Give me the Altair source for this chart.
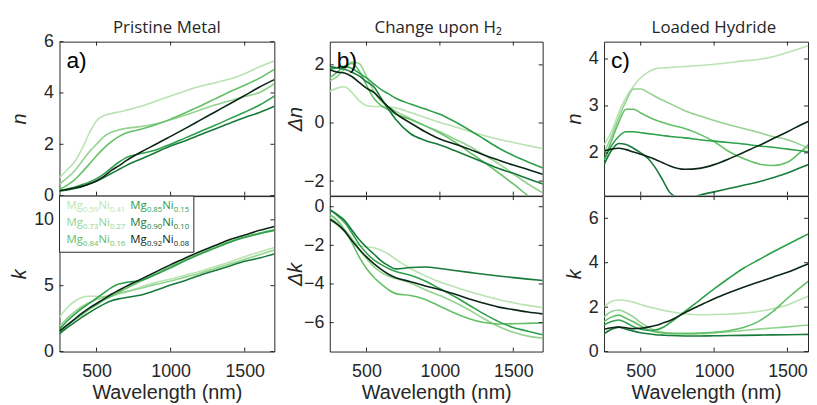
import altair as alt
import pandas as pd

# ---------------- data ----------------
WL = [250, 300, 350, 400, 450, 500, 550, 600, 650, 700, 800, 900, 1000,
      1100, 1200, 1300, 1400, 1500, 1600, 1700]
MG = ["0.59", "0.73", "0.84", "0.85", "0.90", "0.92"]
NI = ["0.41", "0.27", "0.16", "0.15", "0.10", "0.08"]
COLORS = ["#b9e3b1", "#93d38f", "#63c067", "#2ea04b", "#177a3a", "#0c2616"]
X_TICKS = [500, 1000, 1500]
COLUMN_TITLES = ["Pristine Metal", "Change upon H₂", "Loaded Hydride"]

PRISTINE_N = {
    "0.59": [0.70, 1.00, 1.30, 1.80, 2.42, 2.92, 3.12, 3.20, 3.26, 3.33, 3.48, 3.68, 3.88, 4.08, 4.26, 4.40, 4.54, 4.75, 5.02, 5.25],
    "0.73": [0.45, 0.68, 0.95, 1.32, 1.70, 2.00, 2.30, 2.47, 2.56, 2.62, 2.69, 2.80, 2.96, 3.14, 3.34, 3.53, 3.70, 3.86, 4.02, 4.36],
    "0.84": [0.25, 0.40, 0.60, 0.90, 1.22, 1.55, 1.85, 2.10, 2.30, 2.44, 2.59, 2.76, 2.98, 3.23, 3.49, 3.77, 4.05, 4.30, 4.58, 4.92],
    "0.85": [0.20, 0.26, 0.33, 0.42, 0.52, 0.66, 0.85, 1.08, 1.30, 1.48, 1.64, 1.78, 2.00, 2.25, 2.50, 2.74, 3.00, 3.25, 3.53, 3.88],
    "0.90": [0.18, 0.22, 0.28, 0.35, 0.45, 0.56, 0.70, 0.86, 1.02, 1.17, 1.43, 1.68, 1.93, 2.14, 2.37, 2.60, 2.82, 3.04, 3.24, 3.48],
    "0.92": [0.19, 0.24, 0.30, 0.36, 0.45, 0.58, 0.75, 0.98, 1.16, 1.36, 1.70, 2.00, 2.31, 2.62, 2.94, 3.26, 3.58, 3.90, 4.23, 4.52],
}
PRISTINE_K = {
    "0.59": [2.6, 3.3, 3.8, 4.1, 4.2, 4.2, 4.15, 4.2, 4.35, 4.5, 4.9, 5.25, 5.5, 5.8, 6.1, 6.45, 6.8, 7.2, 7.55, 7.9],
    "0.73": [1.9, 2.5, 3.0, 3.4, 3.7, 3.95, 4.15, 4.3, 4.42, 4.55, 4.8, 5.1, 5.35, 5.65, 5.95, 6.3, 6.65, 7.0, 7.35, 7.7],
    "0.84": [1.45, 1.95, 2.4, 2.8, 3.2, 3.55, 3.9, 4.2, 4.5, 4.8, 5.35, 5.9, 6.45, 6.95, 7.45, 7.9, 8.35, 8.7, 9.0, 9.25],
    "0.85": [1.7, 2.3, 2.8, 3.25, 3.65, 4.05, 4.45, 4.85, 5.12, 5.25, 5.4, 5.85, 6.35, 6.9, 7.4, 7.85, 8.3, 8.65, 8.95, 9.2],
    "0.90": [1.35, 1.8, 2.2, 2.6, 2.95, 3.3, 3.6, 3.85, 4.0, 4.1, 4.3, 4.65, 5.05, 5.4, 5.8, 6.15, 6.5, 6.85, 7.1, 7.4],
    "0.92": [1.55, 2.0, 2.45, 2.9, 3.3, 3.65, 4.0, 4.35, 4.65, 4.95, 5.5, 6.05, 6.6, 7.1, 7.6, 8.05, 8.5, 8.85, 9.2, 9.5],
}
CHANGE_N = {
    "0.59": [1.09, 1.20, 1.25, 1.05, 0.77, 0.60, 0.57, 0.57, 0.56, 0.52, 0.36, 0.19, 0.02, -0.13, -0.29, -0.43, -0.56, -0.67, -0.78, -0.88],
    "0.73": [1.45, 1.60, 1.85, 2.10, 2.05, 1.60, 1.10, 0.75, 0.55, 0.40, 0.15, -0.10, -0.30, -0.55, -0.80, -1.10, -1.40, -1.75, -2.10, -2.40],
    "0.84": [1.55, 1.75, 1.95, 2.05, 1.80, 1.30, 0.85, 0.60, 0.45, 0.30, 0.12, -0.10, -0.35, -0.65, -1.00, -1.35, -1.72, -2.10, -2.50, -2.85],
    "0.85": [1.85, 1.90, 1.95, 1.88, 1.72, 1.55, 1.35, 1.15, 1.00, 0.85, 0.65, 0.48, 0.30, 0.05, -0.24, -0.55, -0.86, -1.12, -1.34, -1.55],
    "0.90": [1.94, 1.90, 1.85, 1.75, 1.62, 1.42, 1.25, 0.85, 0.47, 0.12, -0.37, -0.60, -0.76, -0.95, -1.15, -1.36, -1.57, -1.73, -1.92, -2.10],
    "0.92": [1.83, 1.75, 1.72, 1.60, 1.40, 1.20, 1.05, 0.80, 0.55, 0.32, 0.00, -0.30, -0.55, -0.72, -0.90, -1.10, -1.28, -1.45, -1.60, -1.77],
}
CHANGE_K = {
    "0.59": [-0.65, -0.95, -1.30, -1.70, -2.00, -2.08, -2.12, -2.26, -2.45, -2.73, -3.20, -3.58, -3.90, -4.15, -4.39, -4.61, -4.80, -4.97, -5.11, -5.22],
    "0.73": [-0.55, -0.85, -1.20, -1.65, -2.20, -2.70, -3.10, -3.40, -3.60, -3.72, -3.95, -4.30, -4.60, -4.95, -5.35, -5.80, -6.20, -6.50, -6.70, -6.80],
    "0.84": [-0.40, -0.70, -1.20, -1.85, -2.60, -3.20, -3.65, -4.00, -4.30, -4.50, -4.60, -4.80, -5.15, -5.50, -5.80, -6.00, -6.07, -6.06, -6.04, -6.02],
    "0.85": [-0.15, -0.45, -0.80, -1.35, -1.95, -2.40, -2.75, -3.00, -3.20, -3.35, -3.55, -3.85, -4.25, -4.65, -5.10, -5.55, -5.95, -6.25, -6.45, -6.63],
    "0.90": [-0.15, -0.40, -0.70, -1.20, -1.70, -2.10, -2.45, -2.80, -3.05, -3.22, -3.15, -3.12, -3.20, -3.30, -3.40, -3.50, -3.59, -3.67, -3.75, -3.82],
    "0.92": [-0.65, -0.90, -1.25, -1.75, -2.20, -2.60, -2.95, -3.25, -3.50, -3.68, -3.88, -4.10, -4.30, -4.52, -4.78, -5.00, -5.20, -5.33, -5.45, -5.55],
}
HYDRIDE_N = {
    "0.59": [2.17, 2.45, 2.85, 3.18, 3.42, 3.60, 3.72, 3.79, 3.81, 3.82, 3.84, 3.86, 3.89, 3.92, 3.96, 3.99, 4.05, 4.14, 4.24, 4.35],
    "0.73": [2.00, 2.35, 2.75, 3.10, 3.36, 3.36, 3.29, 3.20, 3.12, 3.05, 2.90, 2.79, 2.69, 2.60, 2.52, 2.44, 2.35, 2.28, 2.16, 2.00],
    "0.84": [1.85, 2.25, 2.65, 2.93, 2.93, 2.85, 2.77, 2.70, 2.65, 2.60, 2.52, 2.40, 2.24, 2.03, 1.88, 1.77, 1.73, 1.80, 2.05, 2.35],
    "0.85": [1.85, 2.15, 2.35, 2.45, 2.45, 2.43, 2.41, 2.39, 2.37, 2.35, 2.32, 2.28, 2.25, 2.22, 2.19, 2.15, 2.12, 2.08, 2.04, 2.00],
    "0.90": [1.75, 2.05, 2.20, 2.18, 2.10, 2.00, 1.88, 1.68, 1.42, 1.15, 1.00, 1.10, 1.17, 1.24, 1.31, 1.38, 1.47, 1.57, 1.70, 1.82],
    "0.92": [2.04, 2.08, 2.10, 2.07, 2.02, 1.97, 1.92, 1.86, 1.79, 1.72, 1.65, 1.67, 1.75, 1.87, 2.01, 2.15, 2.30, 2.45, 2.61, 2.75],
}
HYDRIDE_K = {
    "0.59": [2.00, 2.25, 2.32, 2.30, 2.22, 2.12, 2.02, 1.94, 1.86, 1.80, 1.70, 1.66, 1.67, 1.69, 1.73, 1.80, 1.93, 2.10, 2.38, 2.65],
    "0.73": [1.55, 1.80, 1.87, 1.75, 1.56, 1.30, 1.10, 0.95, 0.87, 0.82, 0.79, 0.80, 0.84, 0.89, 0.95, 1.01, 1.06, 1.11, 1.17, 1.22],
    "0.84": [1.35, 1.55, 1.64, 1.50, 1.34, 1.15, 0.98, 0.88, 0.84, 0.82, 0.82, 0.83, 0.87, 0.94, 1.08, 1.35, 1.80, 2.40, 2.95, 3.45],
    "0.85": [1.20, 1.35, 1.42, 1.30, 1.12, 1.00, 0.95, 0.97, 1.08, 1.30, 1.80, 2.31, 2.82, 3.30, 3.75, 4.12, 4.48, 4.82, 5.16, 5.48],
    "0.90": [0.80, 1.00, 1.10, 1.00, 0.92, 0.85, 0.80, 0.76, 0.74, 0.72, 0.70, 0.70, 0.71, 0.72, 0.73, 0.74, 0.75, 0.76, 0.77, 0.78],
    "0.92": [1.00, 1.07, 1.10, 1.07, 1.03, 1.05, 1.10, 1.17, 1.28, 1.40, 1.75, 2.07, 2.38, 2.65, 2.90, 3.12, 3.35, 3.57, 3.84, 4.10],
}

# ---------------- style ----------------
AX = "#262626"
TICK_FONT = "Liberation Sans"
TITLE_FONT = "Open Sans"
H_TOP, H_BOT = 155.5, 157
TICK_LEN = 4


def long_df(d):
    rows = []
    for m in MG:
        for w, v in zip(WL, d[m]):
            rows.append({"wl": w, "val": v, "comp": m})
    return pd.DataFrame(rows)


def text_layer(txt, x, y, size, color, font, align="left"):
    return alt.Chart(pd.DataFrame({"t": [txt]})).mark_text(
        align=align, baseline="alphabetic", font=font, fontSize=size,
        color=color).encode(text="t:N", x=alt.value(x), y=alt.value(y))


def panel(d, ydom, yticks, ytitle, title_x, label, w, h, xdom, bottom,
          title=None, title_dx=0, extra=()):
    df = long_df(d)
    if bottom:
        x_axis = alt.Axis(values=X_TICKS, format="d", title="Wavelength (nm)",
                          ticks=False, tickSize=0, domain=False, grid=False,
                          labelFont=TICK_FONT, labelFontSize=18, labelColor=AX,
                          labelPadding=11, labelFlush=False,
                          titleFont=TICK_FONT, titleFontSize=20, titleColor=AX,
                          titleFontWeight="normal", titleY=47,
                          titleBaseline="alphabetic")
    else:
        x_axis = None
    y_axis = alt.Axis(values=yticks, format="d", title=ytitle,
                      ticks=False, tickSize=0, domain=False, grid=False,
                      labelFont=TICK_FONT, labelFontSize=18, labelColor=AX,
                      labelPadding=6, labelFlush=False, labelOverlap=False,
                      titleFont=TICK_FONT, titleFontSize=20, titleColor=AX,
                      titleFontWeight="normal", titleFontStyle="italic",
                      titleX=title_x, titleY=h / 2, titleAngle=270,
                      titleAlign="center", titleBaseline="alphabetic")
    lines = alt.Chart(df).mark_line(clip=True, strokeWidth=1.6,
                                    interpolate="monotone").encode(
        x=alt.X("wl:Q", scale=alt.Scale(domain=xdom, nice=False, zero=False),
                axis=x_axis),
        y=alt.Y("val:Q", scale=alt.Scale(domain=ydom, nice=False, zero=False),
                axis=y_axis),
        color=alt.Color("comp:N", scale=alt.Scale(domain=MG, range=COLORS),
                        legend=None),
    )
    xt = pd.DataFrame({"wl": X_TICKS})
    yt = pd.DataFrame({"val": yticks})
    rule = dict(color=AX, strokeWidth=1)
    t_bot = alt.Chart(xt).mark_rule(**rule).encode(
        x="wl:Q", y=alt.value(h), y2=alt.value(h - TICK_LEN))
    t_top = alt.Chart(xt).mark_rule(**rule).encode(
        x="wl:Q", y=alt.value(0), y2=alt.value(TICK_LEN))
    t_left = alt.Chart(yt).mark_rule(**rule).encode(
        y="val:Q", x=alt.value(0), x2=alt.value(TICK_LEN))
    t_right = alt.Chart(yt).mark_rule(**rule).encode(
        y="val:Q", x=alt.value(w), x2=alt.value(w - TICK_LEN))
    layers = [lines, t_bot, t_top, t_left, t_right]
    if label:
        layers.append(text_layer(label, 7, 27, 23, "black", TICK_FONT))
    if title:
        layers.append(text_layer(title, w / 2 + title_dx, -8.5, 17, AX,
                                 TITLE_FONT, align="center"))
    layers.extend(extra)
    return alt.layer(*layers).properties(width=w, height=h)


# legend drawn inside panel a (bottom)
def legend_layers():
    out = []
    box = alt.Chart(pd.DataFrame({"z": [0]})).mark_rect(
        fill="white", stroke=AX, strokeWidth=1).encode(
        x=alt.value(0), x2=alt.value(135.7), y=alt.value(0), y2=alt.value(56.7))
    out.append(box)
    for i, (m, n) in enumerate(zip(MG, NI)):
        col, row = i // 3, i % 3
        x0 = 7 + col * 64.5
        y0 = 13 + row * 17.3
        pieces = [("Mg", 0, 0, 11.5), (m, 16.8, 2.6, 7.8),
                  ("Ni", 32.3, 0, 11.5), (n, 44.0, 2.6, 7.8)]
        for txt, dx, dy, fs in pieces:
            out.append(text_layer(txt, x0 + dx, y0 + dy, fs, COLORS[i],
                                  TITLE_FONT))
    return out


def spacer(w, h):
    return alt.Chart(pd.DataFrame({"z": [0]})).mark_point(
        opacity=0, size=0).encode(x=alt.value(0), y=alt.value(0)).properties(
        width=w, height=h, view=alt.ViewBackground(stroke="transparent"))


# invisible anchor that fixes the top-left corner of the whole drawing
anchor = alt.Chart(pd.DataFrame({"z": [0]})).mark_rect(
    fill="white").encode(
    x=alt.value(-51), x2=alt.value(-50), y=alt.value(-31.5), y2=alt.value(-31))

WA, WB, WC = 217, 215, 206
XD = [250, 1700]
XDC = [250, 1640]

a_top = panel(PRISTINE_N, [0, 6], [0, 2, 4, 6], "n", -34, "a)", WA, H_TOP, XD,
              False, title=COLUMN_TITLES[0], extra=[anchor])
a_bot = panel(PRISTINE_K, [0, 11.8], [0, 5, 10], "k", -34, None, WA, H_BOT, XD,
              True, extra=legend_layers())
b_top = panel(CHANGE_N, [-2.5, 2.8], [-2, 0, 2], "Δn", -28.5, "b)", WB, H_TOP,
              XD, False, title=COLUMN_TITLES[1], title_dx=2)
b_bot = panel(CHANGE_K, [-7.5, 0.55], [-6, -4, -2, 0], "Δk", -28.5, None, WB,
              H_BOT, XD, True)
c_top = panel(HYDRIDE_N, [1.09, 4.37], [2, 3, 4], "n", -24, "c)", WC, H_TOP,
              XDC, False, title=COLUMN_TITLES[2], title_dx=8)
c_bot = panel(HYDRIDE_K, [0, 7], [0, 2, 4, 6], "k", -24, None, WC, H_BOT, XDC,
              True)

SP = 27
chart = alt.concat(
    a_top, spacer(2, H_TOP), b_top, spacer(8, H_TOP), c_top,
    a_bot, spacer(2, H_BOT), b_bot, spacer(8, H_BOT), c_bot,
    columns=5, spacing={"row": 0, "column": SP},
    bounds="flush", align="each",
).properties(padding=0, background="white").configure_view(
    stroke=AX, strokeWidth=1)

chart.save("out.html", embed_options={"renderer": "svg", "actions": False})
